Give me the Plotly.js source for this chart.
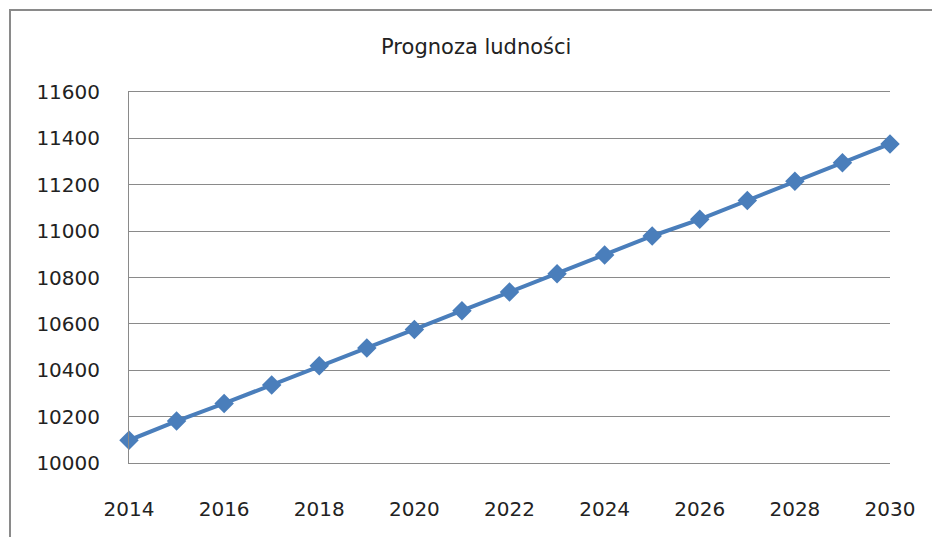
<!DOCTYPE html>
<html>
<head>
<meta charset="utf-8">
<script src="https://cdn.plot.ly/plotly-3.0.1.min.js"></script>
<style>
html,body{margin:0;padding:0;background:#fff;overflow:hidden;}
#wrap{position:relative;width:932px;height:537px;}
#chart{position:absolute;left:0;top:0;width:932px;height:537px;}
#frame{position:absolute;left:9px;top:9px;width:1000px;height:600px;border-left:2px solid #8a8a8a;border-top:2px solid #8a8a8a;pointer-events:none;}
</style>
</head>
<body>
<div id="wrap"><div id="chart"></div><div id="frame"></div></div>
<script>
const years = [2014,2015,2016,2017,2018,2019,2020,2021,2022,2023,2024,2025,2026,2027,2028,2029,2030];
const population = [10098,10181,10257,10336,10419,10496,10576,10657,10738,10816,10897,10979,11051,11132,11215,11295,11376];
const chartTitle = "Prognoza ludności";

const trace = {
  x: years, y: population, type: 'scatter', mode: 'lines+markers',
  line: {color: '#4a7ebb', width: 4},
  marker: {symbol: 'diamond', size: 15, color: '#4a7ebb'},
  cliponaxis: false, hoverinfo: 'skip'
};
const layout = {
  width: 932, height: 537,
  margin: {l: 129, r: 42, t: 92, b: 74},
  paper_bgcolor: '#fff', plot_bgcolor: '#fff',
  showlegend: false,
  font: {family: 'DejaVu Sans', size: 20, color: '#222'},
  title: {text: chartTitle, x: 0.511, xanchor: 'center', y: 0.913, yanchor: 'middle',
          font: {family: 'DejaVu Sans', size: 21, color: '#222'}},
  xaxis: {range: [2014, 2030], dtick: 2, tick0: 2014, showgrid: false, zeroline: false,
          showline: true, mirror: true, linecolor: '#8a8a8a', linewidth: 1, ticks: '',
          ticklabelstandoff: 28, tickformat: 'd', fixedrange: true},
  yaxis: {range: [10000, 11600], dtick: 200, showgrid: true, gridcolor: '#8a8a8a', gridwidth: 1,
          zeroline: false, showline: true, linecolor: '#8a8a8a', linewidth: 1, ticks: '',
          ticklabelstandoff: 24, tickformat: 'd', fixedrange: true}
};
Plotly.newPlot('chart', [trace], layout, {displayModeBar: false, staticPlot: true});
</script>
</body>
</html>
